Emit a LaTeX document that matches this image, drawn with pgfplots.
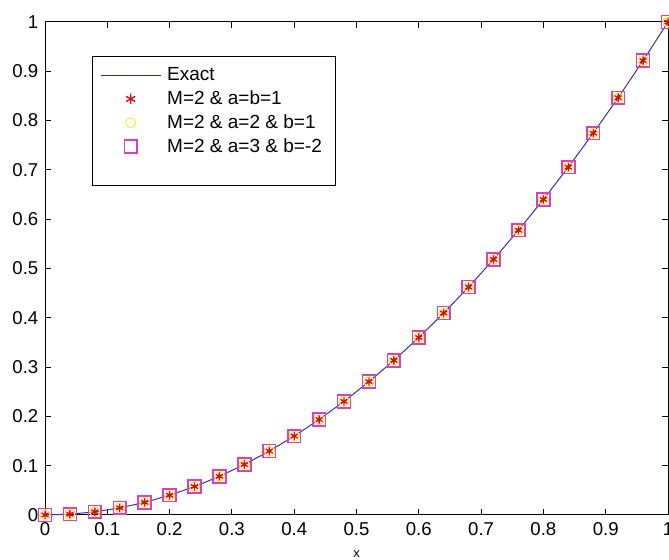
\documentclass[border=0pt]{standalone}
\usepackage{fontspec}
\setmainfont{Liberation Sans}
\usepackage{pgfplots}
\pgfplotsset{compat=1.18}
\usepackage{pgfplotstable}
\usetikzlibrary{calc}
\definecolor{exactblue}{rgb}{0.2,0.2,0.62}
\definecolor{mred}{rgb}{0.85,0.05,0.05}
\definecolor{myellow}{rgb}{1,0.93,0.3}
\definecolor{mmag}{rgb}{0.85,0.25,0.75}

\pgfplotsset{
  lineleg/.style={legend image code/.code={\draw[##1] (0pt,0pt) -- (30pt,0pt);}},
  markleg/.style={legend image code/.code={\draw[mark repeat=2,mark phase=2,##1] plot coordinates {(0pt,0pt) (15pt,0pt) (30pt,0pt)};}},
}

\pgfplotstableread{
x y
0.00 0.0000
0.04 0.0016
0.08 0.0064
0.12 0.0144
0.16 0.0256
0.20 0.0400
0.24 0.0576
0.28 0.0784
0.32 0.1024
0.36 0.1296
0.40 0.1600
0.44 0.1936
0.48 0.2304
0.52 0.2704
0.56 0.3136
0.60 0.3600
0.64 0.4096
0.68 0.4624
0.72 0.5184
0.76 0.5776
0.80 0.6400
0.84 0.7056
0.88 0.7744
0.92 0.8464
0.96 0.9216
1.00 1.0000
}\sol

\begin{document}
\fontsize{9.5}{11}\selectfont
\begin{tikzpicture}
  \begin{axis}[
    name=ax,
    scale only axis,
    width=311.5pt, height=246.5pt,
    xmin=0, xmax=1, ymin=0, ymax=1,
    xtick={0,0.1,...,1}, ytick={0,0.1,...,1},
    tick align=inside,
    major tick length=3pt,
    tick style={black, line width=0.5pt},
    axis line style={line width=0.5pt},
    /pgf/number format/assume math mode=true,
    tick label style={font=\fontsize{9.3}{11}\selectfont},
    xticklabel style={yshift=-0.5pt},
    xlabel={x},
    xlabel style={font=\fontsize{6.5}{8}\selectfont, yshift=-1pt},
    clip=false,
    legend cell align=left,
    legend style={at={(0.075,0.931)}, anchor=north west,
      draw=black, line width=0.5pt, inner xsep=4pt, inner ysep=4pt,
      row sep=0.6pt,
      font=\fontsize{9.5}{11}\selectfont,
      nodes={inner sep=1.5pt, inner xsep=3pt}},
  ]
    \addplot[color=exactblue, line width=0.5pt, lineleg] table {\sol};
    \addlegendentry{Exact}
    \addplot[only marks, mark=asterisk, color=mred,
      mark options={line width=0.7pt}, mark size=2.6pt, markleg] table {\sol};
    \addlegendentry{M=2 \& a=b=1}
    \addplot[only marks, mark=o, color=myellow,
      mark options={line width=0.6pt}, mark size=2.5pt, markleg] table {\sol};
    \addlegendentry{M=2 \& a=2 \& b=1}
    \addplot[only marks, mark=square, color=mmag,
      mark options={line width=0.8pt}, mark size=3.2pt, markleg] table {\sol};
    \addlegendentry{M=2 \& a=3 \& b=-2}
    \addlegendimage{empty legend}
    \addlegendentry{\rule{0pt}{5pt}}
  \end{axis}
  \pgfresetboundingbox
  \useasboundingbox ($(ax.south west)+(-22.5pt,-22.5pt)$) rectangle ($(ax.south west)+(312pt,257.5pt)$);
\end{tikzpicture}
\end{document}
